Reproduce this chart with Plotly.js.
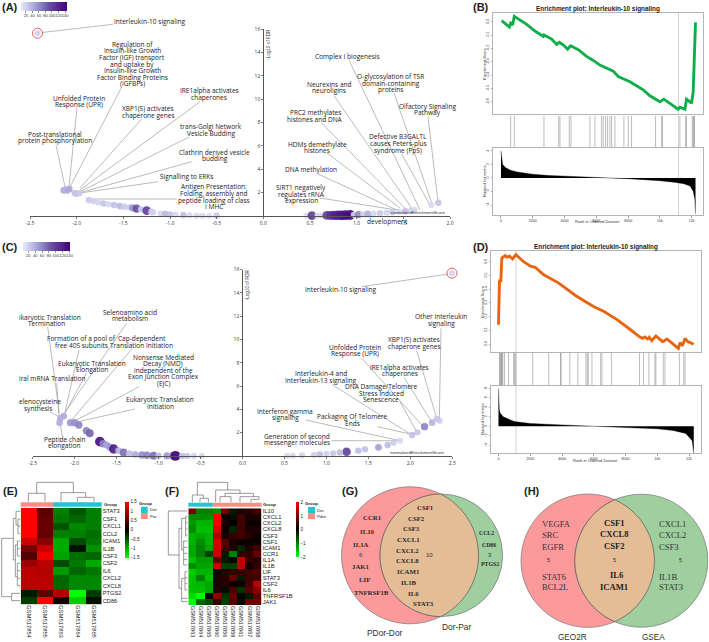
<!DOCTYPE html>
<html><head><meta charset="utf-8">
<script src="https://cdn.plot.ly/plotly-3.0.1.min.js"></script>
<style>html,body{margin:0;padding:0;background:#fff}#c{width:709px;height:642px}</style>
</head><body><div id="c"></div>
<script>
// ---------- DATA ----------
const aNES=[-2.42,-2.14,-2.12,-2.10,-2.08,-2.02,-2.0,-1.97,-1.87,-1.82,-1.77,-1.714,-1.66,-1.60,-1.536,-1.49,-1.44,-1.40,-1.357,-1.31,-1.25,-1.2,-1.18,-1.1,-1.05,-1.0,-.94,-.857,-.79,-.714,-.65,-.58,-.5,.46,.52,.58,.62,.68,.72,.76,.8,.84,.88,.93,.97,1.02,1.07,1.12,1.18,1.25,1.32,1.38,1.45,1.52,1.58,1.62,1.80,1.875];
const aFDR=[15.64,2.2,2.25,2.2,2.3,1.95,1.9,1.95,1.37,1.28,1.18,1.08,1,.95,.85,.8,.75,.7,.63,.56,.46,.37,.31,.22,.17,.14,.12,.085,.06,.02,.02,.02,.03,.02,.03,.04,.03,.05,.05,.05,.06,.06,.07,.08,.1,.12,.15,.18,.2,.24,.28,.32,.36,.4,.46,.5,.94,1.14];
const aSet=[20,40,40,40,45,30,30,25,25,22,20,28,18,30,35,25,22,55,90,25,100,25,20,18,35,30,18,30,15,18,16,14,25,12,100,14,16,100,110,120,125,130,135,140,20,60,22,40,18,25,18,25,20,30,20,18,15,28];
const cNES=[2.496,2.35,2.317,2.26,2.17,2.086,2.02,1.877,1.8,1.73,1.62,1.46,1.38,1.24,1.16,1.08,1.0,.92,.85,.71,.6,.53,-2.13,-2.17,-2.18,-2.05,-2.0,-1.95,-1.86,-1.82,-1.70,-1.66,-1.62,-1.58,-1.535,-1.476,-1.417,-1.35,-1.28,-1.2,-1.14,-1.06,-1,-.9,-.85,-.80,-.72,-.66,-.58,-.484];
const cFDR=[15.68,3.03,3.18,2.86,2.52,2.03,1.8,1.31,1.14,.94,.74,.57,.46,.37,.31,.23,.19,.14,.1,.06,.03,.02,3.43,3.23,2.86,2.86,2.86,2.66,2.17,1.95,1.23,1.05,.94,.76,.6,.46,.31,.22,.14,.09,.06,.03,.02,.01,.01,.01,.01,.01,.01,.01];
const cSet=[18,20,25,35,60,25,28,15,22,30,45,28,30,95,30,25,20,30,20,18,15,14,40,38,38,50,55,60,60,75,130,60,45,50,120,35,70,30,40,55,60,70,30,50,40,140,30,25,18,15];
const nesTicksA=[-2.5,-2,-1.5,-1,-.5,0,.5,1,1.5,2];
const nesTicksC=[-2.5,-2,-1.5,-1,-.5,0,.5,1,1.5,2,2.5];
const fdrTicks=[2,4,6,8,10,12,14,16];
const setTicks=[20,40,60,80,100,120,140];

const bRank=[40,524,608,734,838,1614,2138,2662,2704,3186,3500,3668,3920,4192,4380,4863,5387,5806,6225,7064,7378,8112,8950,9370,10000,10250,11150,11256,11570,11675,11990,12094,12240];
const bES=[.0075,-.04,-.012,-.025,.04,-.02,-.07,-.11,-.10,-.13,-.17,-.155,-.175,-.205,-.18,-.21,-.26,-.29,-.325,-.37,-.41,-.45,-.51,-.555,-.60,-.58,-.655,-.64,-.655,-.58,-.61,-.525,-.005];
const bHits=[608,838,2704,3626,3710,4297,4402,5596,5911,6330,6435,6581,6707,6854,6959,7168,7734,8007,8216,9725,10103,10166,11256,11612,11675,12031,12094,12136,12178];
const bMetricRank=[0,30,100,300,600,1000,2000,3000,4000,5000,6000,6800,8000,9000,10000,11000,11500,11900,12100,12200,12240];
const bMetric=[4,3,2,1.5,1.15,.9,.55,.37,.25,.13,.05,0,-.1,-.24,-.4,-.65,-.85,-1.2,-2,-3.2,-5.3];
const bPeak=[11170];
const dRank=[0,63,148,211,422,528,696,886,1097,1583,2047,2321,2849,3798,4853,5380,6014,6647,7490,8335,8862,9073,9220,9390,9495,9643,9917,10339,10613,11331,11436,11584,11753,11922,12300];
const dES=[.14,.46,.46,.627,.644,.634,.641,.62,.651,.60,.566,.559,.505,.444,.354,.315,.271,.237,.176,.102,.054,.041,.051,.037,.049,.024,.059,.017,.037,-.032,.01,-.012,.041,.017,-.002];
const dHits=[63,105,148,190,232,274,380,633,950,1013,1097,2152,3165,3904,3946,4494,5001,5507,5592,5655,5887,6436,6520,7111,8883,9136,9474,9854,9917,10381,10487,11394,11668,11753];
const dMetricRank=[0,10,50,100,300,1000,2000,4000,5000,6000,7000,8000,10000,11000,11800,12200,12270,12300];
const dMetric=[8,5,3.5,2.8,2,1,.6,.3,.15,0,-.05,-.2,-.5,-.85,-1.5,-3,-4.5,-5.6];
const dPeak=[1097];
const rankTicks=[0,2000,4000,6000,8000,10000,12000];
const bEsTicks=[0,-.1,-.2,-.3,-.4,-.5,-.6];
const dEsTicks=[0,.1,.2,.3,.4,.5,.6];
const bMetricTicks=[4,2,0,-2,-4];
const dMetricTicks=[8,6,4,2,0,-2,-4];

const eCols=['GSM517854','GSM517855','GSM517863','GSM517864','GSM517865'];
const eRows=['STAT3','CSF1','CXCL1','CCL2','ICAM1','IL1B','CSF3','CSF2','IL6','CXCL2','CXCL8','PTGS2','CD86'];
const eZ=[[1.5,.55,-.75,-.5,-.75],[1.5,.6,-.7,-.6,-.75],[1.5,.6,-.5,-.8,-.75],[1.5,.6,-.75,-.75,-.65],[1.2,.8,-1,-.45,-.7],[.7,1.2,-1,-.1,-.85],[.5,1.4,-.95,-.65,-.6],[.9,1.1,-.45,-.7,-1],[1.1,1.05,-.9,-.6,-.7],[1.1,1.1,-.6,-.8,-.8],[1.1,1.1,-.6,-.8,-.8],[-.15,.55,1.05,-1.5,-.35],[-.35,1.5,.1,-1.2,-.1]];
const eTicks=[-1.5,-1,-.5,0,.5,1,1.5];
const fCols=['GSM517863','GSM517864','GSM517865','GSM517860','GSM517856','GSM517859','GSM517861','GSM517857','GSM517858'];
const fRows=['IL10','CXCL1','CXCL2','CXCL8','CSF3','CSF1','ICAM1','CCR1','IL1A','IL1B','LIF','STAT3','CSF2','IL6','TNFRSF1B','JAK1'];
const fZ=[[.9,-1,-1,-1.1,.9,-.2,.2,.3,.5],[-1.1,-1.1,-1.1,2,.1,-.1,.5,.2,.2],[-1.2,-1.4,-1.4,1.9,.2,0,.5,.1,.1],[-1.1,-1.5,-1.5,1.7,.1,-.3,.5,.2,.2],[-1.4,-1.3,-1.4,1.3,.2,.4,.5,.3,.1],[-1.4,-1.1,-1.4,1.6,.7,.2,.1,.1,.1],[-1.3,-1,-1.3,1.6,.5,.2,-.3,.2,.5],[-1.3,-1,-.5,1.6,-.2,-1,.4,.4,.8],[-1.5,-1.2,-1.2,.7,-.2,0,1.5,.4,.3],[-1.1,-1.3,-1.3,1.6,-.5,-.5,1.5,.1,.4],[-1.6,-1.4,-1.4,.1,.3,.4,.4,.5,.6],[-1.5,-1,-1.5,.2,.3,.8,-.2,.5,.5],[-1.5,-1.4,-1.3,.2,.3,.1,.1,.5,1.4],[-1.5,-1.5,-1.3,.3,-.1,.6,-.4,.7,1.1],[-1.7,-2,0,1.1,-.4,.8,0,-.2,.7],[-2,-.8,-.6,.4,-.5,.7,-.1,.9,.9]];
const fTicks=[-2,-1,0,1,2];

const aLabels=['Interleukin-10 signaling','Regulation of<br>Insulin-like Growth<br>Factor (IGF) transport<br>and uptake by<br>Insulin-like Growth<br>Factor Binding Proteins<br>(IGFBPs)','Unfolded Protein<br>Response (UPR)','XBP1(S) activates<br>chaperone genes','IRE1alpha activates<br>chaperones','Post-translational<br>protein phosphorylation','trans-Golgi Network<br>Vesicle Budding','Clathrin derived vesicle<br>budding','Signalling to ERKs','Antigen Presentation:<br>Folding, assembly and<br>peptide loading of class<br>I MHC','Complex I biogenesis','O-glycosylation of TSR<br>domain-containing<br>proteins','Neurexins and<br>neuroligins','Olfactory Signaling<br>Pathway','PRC2 methylates<br>histones and DNA','Defective B3GALTL<br>causes Peters-plus<br>syndrome (PpS)','HDMs demethylate<br>histones','DNA methylation','SIRT1 negatively<br>regulates rRNA<br>expression','development'];
const cLabels=['ikaryotic Translation','Termination','Selenoamino acid<br>metabolism','Formation of a pool of<br>free 40S subunits','Cap-dependent<br>Translation Initiation','Eukaryotic Translation<br>Elongation','Nonsense Mediated<br>Decay (NMD)<br>independent of the<br>Exon Junction Complex<br>(EJC)','iral mRNA Translation','elenocysteine','synthesis','Eukaryotic Translation<br>Initiation','Peptide chain<br>elongation','Interleukin-10 signaling','Other interleukin<br>signaling','XBP1(S) activates<br>chaperone genes','Unfolded Protein<br>Response (UPR)','IRE1alpha activates<br>chaperones','Interleukin-4 and<br>Interleukin-13 signaling','DNA Damage/Telomere<br>Stress Induced<br>Senescence','Interferon gamma<br>signaling','Packaging Of Telomere<br>Ends','Generation of second<br>messenger molecules'];

// ---------- PLACEMENT ----------
const W=709,H=642;
const aLabelAt=[[150,21.7],[132,44.3],[78.5,98],[148,109],[209,91],[55,134],[211,127],[215,152],[187,177],[214,187],[347.7,56],[390.7,76.7],[329,84],[427.7,106],[315,113],[398,137],[317,144],[310.7,170],[301,187.5],[387.7,221]];
const cLabelAt=[[50,317],[46.7,324],[130,312.3],[81.5,338.7],[141.7,338.7],[91.7,363],[163,357],[51.7,378.7],[40.3,401],[38,408],[160,399.7],[64.3,439.3],[341,290],[441,316.7],[414.3,339.7],[354.7,347.3],[399.7,367.3],[321,374],[381.3,386.7],[285,411.3],[352.7,416.7],[297.3,436]];
const leadersA=[[113,24.3,42,32.5],[121.7,87,70,187],[77,108,69,187],[56,145,65,187],[141.7,119,80,188],[200,101.7,80,190],[189,137,80,191.7],[191.7,161.7,80,192.7],[158,181.7,80,193],[176.7,199,88,199],[349,60,420,210],[394,93,431.7,203],[334,95.7,413,210],[428,116.7,438,201.7],[321.7,123,406.7,210],[401.7,154,430,205],[327,153,400,208],[318,174,396.7,210],[320,198,396.7,210]];
const leadersC=[[47.7,327,59.3,413],[126.7,323,63.3,415],[79,350,65,412],[86.7,372.7,65,413],[131.7,349,71.7,420],[139,386.7,76.7,420],[135,409,78,421.7],[56.7,383,59,416.7],[49.3,411.7,58,416],[62.3,436,60,423.3],[361.7,286.7,448.3,274],[441,328.3,439.3,420],[416.7,350.7,436.7,418.3],[361.7,358.3,423.3,426.7],[404,377.3,431.7,421.7],[331.7,384.3,410,434],[400,401.7,416.7,431.7],[305.7,420,400,440.7],[377.3,426.7,410,434],[331.7,440.7,400,440.7]];

const fx=x=>x/W, fy=y=>1-y/H;
const ann=[], shp=[], traces=[], layout={
  width:W,height:H,margin:{l:0,r:0,t:0,b:0,autoexpand:false},paper_bgcolor:'#fff',plot_bgcolor:'rgba(0,0,0,0)',
  showlegend:false,annotations:ann,shapes:shp,font:{family:'Liberation Sans, Arial',color:'#333'}
};
function pair(n,x0,x1,y0,y1,xo,yo){
  const s=n===1?'':n;
  layout['xaxis'+s]=Object.assign({domain:[fx(x0),fx(x1)],anchor:'y'+s,showgrid:false,zeroline:false},xo);
  layout['yaxis'+s]=Object.assign({domain:[fy(y1),fy(y0)],anchor:'x'+s,showgrid:false,zeroline:false},yo);
  return {xaxis:'x'+s,yaxis:'y'+s};
}
function txt(t,x,y,o={}){
  ann.push({text:t,x:fx(x),y:fy(y),xref:'paper',yref:'paper',showarrow:false,xanchor:o.anchor||'center',yanchor:'middle',
    borderpad:0,borderwidth:0,textangle:o.angle||0,
    font:{family:o.family||'Liberation Sans, Arial',size:o.size||6,color:o.color||'#222'}});
}
function multi(t,cx,y,step,o){t.split('<br>').forEach((l,i)=>txt(l,cx,y+i*step,o));}
const pathOf=segs=>segs.map(s=>`M${fx(s[0])},${fy(s[1])}L${fx(s[2])},${fy(s[3])}`).join('');
function lines(segs,color,width){shp.push({type:'path',xref:'paper',yref:'paper',path:pathOf(segs),line:{color,width},layer:'below'});}
function box(x0,y0,x1,y1,fill){shp.push({type:'rect',xref:'paper',yref:'paper',x0:fx(x0),x1:fx(x1),y0:fy(y1),y1:fy(y0),fillcolor:fill,line:{width:0},layer:'below'});}
const purple=[[0,'#e8e8f6'],[.12,'#cfcfec'],[.3,'#a5a3d8'],[.6,'#6a51a3'],[1,'#3f007d']];
const zoomSeg=(ox,oy,list)=>list.map(s=>[ox+s[0]/3,oy+s[1]/3,ox+s[2]/3,oy+s[3]/3]);

// ---------- volcano panels ----------
const LABEL={family:'Open Sans',size:6.55,color:'#222'};
function volcano(n,xs,ys,sets,box4,xr,xticks,cb,labels,at,leaders,axisTitle,nesAt){
  const axes=pair(n,box4[0],box4[1],box4[2],box4[3],
    {range:xr,tickmode:'array',tickvals:xticks,ticktext:xticks.map(v=>v.toFixed(1)),ticks:'outside',ticklen:2,tickwidth:.7,showline:true,linecolor:'#555',linewidth:1,tickfont:{size:5,color:'#333',family:'Open Sans'}},
    {range:[0,16],anchor:'free',position:fx(box4[4]),tickmode:'array',tickvals:fdrTicks,ticks:'outside',ticklen:2,tickwidth:.7,showline:true,linecolor:'#555',linewidth:1,tickfont:{size:5,color:'#333',family:'Open Sans'}});
  lines(leaders,'#a9a9a9',.8);
  traces.push(Object.assign({type:'scatter',mode:'markers',x:xs,y:ys,cliponaxis:false,hoverinfo:'skip',
    marker:{color:sets,cmin:cb.cmin,cmax:cb.cmax,colorscale:purple,size:sets.map(v=>5.5+v*0.032),opacity:.92,line:{width:0},
      colorbar:{orientation:'h',x:fx(cb.x),xanchor:'left',y:fy(cb.y),yanchor:'top',lenmode:'pixels',len:cb.len,thickness:9,xpad:0,ypad:0,outlinewidth:0,tickmode:'array',tickvals:setTicks,tickangle:0,ticks:'outside',ticklen:2,tickwidth:.5,tickcolor:'#333',tickfont:{size:4,color:'#333'}}}},axes));
  traces.push(Object.assign({type:'scatter',mode:'markers',x:xs.slice(0,1),y:ys.slice(0,1),cliponaxis:false,hoverinfo:'skip',
    marker:{symbol:'circle-open',size:10,color:'#e2505a',line:{width:.9,color:'#e2505a'}}},axes));
  labels.forEach((t,i)=>multi(t,at[i][0],at[i][1],6.6,LABEL));
  txt('-Log10 of FDR',axisTitle[0],axisTitle[1],{size:4.6,angle:-90,color:'#333'});
  txt('normalizedEnrichmentScore',nesAt[0],nesAt[1],{size:4.3,color:'#333'});
}
volcano(1,aNES,aFDR,aSet,[30,450,29,216,263.3],[-2.5,2],nesTicksA,{cmin:5,cmax:146,x:21,y:2,len:46},aLabels,aLabelAt,leadersA,[267.7,44],[418,212]);
volcano(2,cNES,cFDR,cSet,[32.7,452.3,269.5,456,242.3],[-2.5,2.5],nesTicksC,{cmin:4,cmax:140,x:22.7,y:241.7,len:46.6},cLabels,cLabelAt,leadersC,[247.3,285],[417,452]);

// ---------- GSEA panels ----------
function gsea(n,cfg){
  const frame={showline:true,mirror:true,linecolor:'#b5b5b5',linewidth:1};
  const tf={size:3.6,color:'#333'};
  const xr=cfg.xr;
  const top=pair(n,cfg.x0,cfg.x1,cfg.top[0],cfg.top[1],Object.assign({range:xr,showticklabels:false,ticks:''},frame),
    Object.assign({range:cfg.topR,tickmode:'array',tickvals:cfg.esTicks,ticktext:cfg.esTicks.map(v=>v.toFixed(1)),ticks:'outside',ticklen:1.5,tickwidth:.5,tickangle:-90,tickfont:tf},frame));
  const strip=pair(n+1,cfg.x0,cfg.x1,cfg.strip[0],cfg.strip[1],{range:xr,visible:false},{range:[0,1],visible:false});
  const rank=pair(n+2,cfg.x0,cfg.x1,cfg.rank[0],cfg.rank[1],Object.assign({range:xr,tickmode:'array',tickvals:rankTicks,ticks:'outside',ticklen:1.5,tickwidth:.5,tickfont:tf},frame),
    Object.assign({range:cfg.rankR,tickmode:'array',tickvals:cfg.metricTicks,ticks:'outside',ticklen:1.5,tickwidth:.5,tickangle:-90,tickfont:tf},frame));
  [[top,cfg.topR],[strip,[0,1]],[rank,cfg.rankR]].forEach(([ax,r])=>traces.push(Object.assign({type:'scatter',mode:'lines',hoverinfo:'skip',
    x:[cfg.peak[0],cfg.peak[0]],y:r,line:{color:'#d4d4d4',width:1}},ax)));
  traces.push(Object.assign({type:'scatter',mode:'lines',x:cfg.rankX,y:cfg.es,line:{color:cfg.color,width:2.9,simplify:false},hoverinfo:'skip'},top));
  traces.push(Object.assign({type:'scatter',mode:'markers',x:cfg.hits,y:cfg.hits.map(()=>.5),hoverinfo:'skip',
    marker:{symbol:'line-ns',size:cfg.strip[1]-cfg.strip[0],color:'#888',line:{width:.8,color:'rgba(90,90,90,.5)'}}},strip));
  traces.push(Object.assign({type:'scatter',mode:'lines',x:cfg.mx,y:cfg.my,fill:'tozeroy',fillcolor:'#000',line:{color:'#000',width:.4},hoverinfo:'skip'},rank));
  txt('<b>Enrichment plot: Interleukin-10 signaling</b>',cfg.title[0],cfg.title[1],{size:6.4,color:'#222'});
  txt('Enrichment Score',cfg.ytitle,(cfg.top[0]+cfg.top[1])/2,{size:4,angle:-90,color:'#333'});
  txt('Ranked list metric',cfg.ytitle,(cfg.rank[0]+cfg.rank[1])/2,{size:4,angle:-90,color:'#333'});
  txt('Rank in Ordered Dataset',cfg.xtitle[0],cfg.xtitle[1],{size:4,color:'#333'});
}
gsea(3,{x0:493,x1:703,xr:[-503,12711],top:[13,114],topR:[-.691,.065],strip:[116,147],rank:[148,215],rankR:[-5.48,4.44],
  rankX:bRank,es:bES,hits:bHits,mx:bMetricRank,my:bMetric,peak:bPeak,esTicks:bEsTicks,metricTicks:bMetricTicks,color:'#0fae4b',title:[598.3,9.3],ytitle:484.5,xtitle:[597.7,222]});
gsea(6,{x0:491,x1:700.7,xr:[-472,12737],top:[251,351.7],topR:[-.056,.678],strip:[353,385],rank:[385.7,453],rankR:[-5.6,8.55],
  rankX:dRank,es:dES,hits:dHits,mx:dMetricRank,my:dMetric,peak:dPeak,esTicks:dEsTicks,metricTicks:dMetricTicks,color:'#e8650f',title:[596,246.7],ytitle:482.5,xtitle:[595,460]});

// ---------- heatmaps ----------
const gbr=[[0,'#00ff00'],[.5,'#000000'],[1,'#ff0000']];
function heat(n,cols,rows,z,lim,b,ticks,cb){
  const axes=pair(n,b[0],b[1],b[2],b[3],
    {type:'category',tickmode:'array',tickvals:cols,ticktext:cols,tickangle:90,ticks:'',tickfont:{size:cb.colFont,color:'#222'}},
    {type:'category',range:[rows.length-.5,-.5],side:'right',tickmode:'array',tickvals:rows,ticktext:rows,ticks:'',tickfont:{size:cb.rowFont,color:'#222'}});
  traces.push(Object.assign({type:'heatmap',x:cols,y:rows,z,zmin:-lim,zmax:lim,colorscale:gbr,hoverinfo:'skip',
    colorbar:{x:fx(cb.x),xanchor:'left',y:fy(cb.y),yanchor:'top',lenmode:'pixels',len:cb.len,thickness:cb.t,xpad:0,ypad:0,outlinewidth:0,tickmode:'array',tickvals:ticks,ticks:'',tickfont:{size:4.6,color:'#222'}}},axes));
}
heat(9,eCols,eRows,eZ,1.5,[20.7,101.7,507.7,604.3],eTicks,{x:125,y:501.7,len:55.6,t:4,rowFont:5.7,colFont:5.8});
heat(10,fCols,fRows,fZ,2,[188.3,261.7,508.3,605],fTicks,{x:296,y:502.3,len:55,t:3.3,rowFont:5.8,colFont:5.6});
box(20.7,502.3,53.1,506.7,'#fb8d85');box(53.1,502.3,101.7,506.7,'#1fc7d4');
box(188.3,502.7,212.8,506.7,'#1fc7d4');box(212.8,502.7,261.7,506.7,'#fb8d85');
txt('<b>Group</b>',103.5,504.3,{size:4.3,anchor:'left'});txt('<b>Group</b>',262.5,504.6,{size:4.3,anchor:'left'});
txt('<b>Group</b>',145.5,503.3,{size:4.3});box(141,506.7,147.7,513,'#1fc7d4');box(141,513,147.7,519,'#fb8d85');
txt('Dor',149.5,509.8,{size:4.3,anchor:'left'});txt('Par',149.5,516,{size:4.3,anchor:'left'});
txt('<b>Group</b>',311.5,503.3,{size:4.3});box(308,507,315,513,'#1fc7d4');box(308,513,315,519,'#fb8d85');
txt('Dor',316.5,510,{size:4.3,anchor:'left'});txt('Pdor',316.5,516,{size:4.3,anchor:'left'});
const dendro='#6f6f6f';
lines(zoomSeg(0,450,[[110,97,220,97],[110,97,110,130],[220,97,220,128],[85,130,135,130],[85,130,85,155],[135,130,135,155],[183,128,257,128],[183,128,183,155],[257,128,257,142],[232,142,282,142],[232,142,232,155],[282,142,282,155],
 [5,265,5,440],[5,265,40,265],[5,440,35,440],[35,430,35,452],[35,430,60,430],[35,452,60,452],[40,205,40,330],[40,205,48,205],[48,184,48,225],[48,184,60,184],[48,225,54,225],[54,207,54,251],[54,207,60,207],[54,229,60,229],[54,251,60,251],[40,330,46,330],[46,285,46,380],[46,285,52,285],[52,273,52,305],[52,273,60,273],[52,296,60,296],[52,318,60,318],[52,305,52,318],[46,380,52,380],[52,340,52,395],[52,340,60,340],[52,362,60,362],[52,385,60,385],[52,407,60,407],[52,395,52,407]]),dendro,.7);
lines(zoomSeg(165,450,[[97,97,188,97],[97,97,97,135],[188,97,188,120],[82,135,115,135],[82,135,82,157],[115,135,115,145],[105,145,130,145],[105,145,105,157],[130,145,130,157],[152,120,225,120],[152,120,152,157],[225,120,225,130],[180,130,265,130],[180,130,180,140],[165,140,198,140],[165,140,165,157],[198,140,198,157],[265,130,265,140],[225,140,282,140],[225,140,225,157],[282,140,282,148],[258,148,282,148],[258,148,258,157],
 [10,183,10,315],[10,183,67,183],[10,315,42,315],[42,235,42,415],[42,235,50,235],[50,205,50,300],[50,205,62,205],[62,200,62,260],[62,200,67,200],[62,218,67,218],[62,237,67,237],[62,255,67,255],[50,300,56,300],[56,273,56,345],[56,273,67,273],[56,292,67,292],[56,310,67,310],[56,328,67,328],[56,345,67,345],[42,415,50,415],[50,385,50,445],[50,385,60,385],[60,365,60,420],[60,365,67,365],[60,383,67,383],[60,401,67,401],[60,420,67,420],[50,445,67,445],[50,455,67,455],[50,445,50,455]]),dendro,.7);

// ---------- Venn panels ----------
const VRED='#fc9a9b',VGREEN='#9fcf9f',VMIX='#e4bd97';
function venn(c1,c2){
  const circ=(c,fill)=>shp.push({type:'circle',xref:'paper',yref:'paper',x0:fx(c[0]-c[2]),x1:fx(c[0]+c[2]),y0:fy(c[1]+c[2]),y1:fy(c[1]-c[2]),fillcolor:fill,line:{color:'#777',width:.7},layer:'below'});
  circ(c1,VRED);circ(c2,VGREEN);
  const d=c2[0]-c1[0],a=(d*d+c1[2]*c1[2]-c2[2]*c2[2])/(2*d),h=Math.sqrt(c1[2]*c1[2]-a*a),pts=[];
  const t1=Math.atan2(h,a),t2=Math.atan2(h,a-d);
  for(let i=0;i<=60;i++){const t=-t1+2*t1*i/60;pts.push([c1[0]+c1[2]*Math.cos(t),c1[1]+c1[2]*Math.sin(t)]);}
  for(let i=0;i<=60;i++){const t=t2+(2*Math.PI-2*t2)*i/60;pts.push([c2[0]+c2[2]*Math.cos(t),c2[1]+c2[2]*Math.sin(t)]);}
  shp.push({type:'path',xref:'paper',yref:'paper',path:'M'+pts.map(p=>`${fx(p[0])},${fy(p[1])}`).join('L')+'Z',fillcolor:VMIX,line:{color:'#555',width:.7},layer:'below'});
}
venn([410,555.3,68.5],[441.3,555.3,61.3]);
venn([587.7,560.7,66.7],[641.3,560.7,66.5]);
const SERIF='Liberation Serif';
[['CSF1',272,172],['CSF2',243,204],['CSF3',228,236],['CXCL1',221,268],['CXCL2',217,301],['CXCL8',217,332],['ICAM1',221,365],['IL1B',221,397],['IL6',235,430],['STAT3',265,461],['CCR1',112,203],['IL10',96,243],['IL1A',77,282],['JAK1',78,349],['LIF',87,388],['TNFRSF1B',110,426]]
 .forEach(t=>txt('<b>'+t[0]+'</b>',335+t[1]/3,450+t[2]/3,{family:SERIF,size:6.8,color:'#2a2a2a'}));
[['CCL2',455,250],['CD86',463,286],['PTGS2',465,343]].forEach(t=>txt('<b>'+t[0]+'</b>',335+t[1]/3,450+t[2]/3,{family:SERIF,size:5.8,color:'#2a2a2a'}));
[['10',283,315],['6',77,315],['3',466,315]].forEach(t=>txt(t[0],335+t[1]/3,450+t[2]/3,{size:6,color:'#333'}));
txt('PDor-Dor',385,633.3,{size:8.4,color:'#333'});txt('Dor-Par',456.7,626.7,{size:8.4,color:'#333'});
[['CSF1',283,220],['CXCL8',283,253],['CSF2',283,287],['IL6',290,375],['ICAM1',283,410]].forEach(t=>txt('<b>'+t[0]+'</b>',520+t[1]/3,450+t[2]/3,{family:SERIF,size:8.6,color:'#222'}));
[['VEGFA',109,222],['SRC',90,256],['EGFR',99,290],['STAT6',103,380],['BCL2L',106,412],['CXCL1',458,222],['CXCL2',458,256],['CSF3',446,290],['IL1B',444,380],['STAT3',453,412]].forEach(t=>txt(t[0],520+t[1]/3,450+t[2]/3,{family:SERIF,size:8.6,color:'#333'}));
[[283,331],[84,331],[482,331]].forEach(p=>txt('5',520+p[0]/3,450+p[1]/3,{size:5.5,color:'#333'}));
txt('GEO2R',572.3,637.7,{size:8.2,color:'#333'});txt('GSEA',653.3,637.7,{size:8.2,color:'#333'});

// ---------- panel letters ----------
[['(A)',10.3,7.3],['(B)',480.7,7.3],['(C)',10,247.3],['(D)',480.7,246.7],['(E)',10,490.7],['(F)',171.7,490.7],['(G)',350,491],['(H)',532.3,491]]
 .forEach(t=>txt('<b>'+t[0]+'</b>',t[1],t[2],{size:11,color:'#222'}));

Plotly.newPlot('c',traces,layout,{displayModeBar:false,staticPlot:true});
</script></body></html>
